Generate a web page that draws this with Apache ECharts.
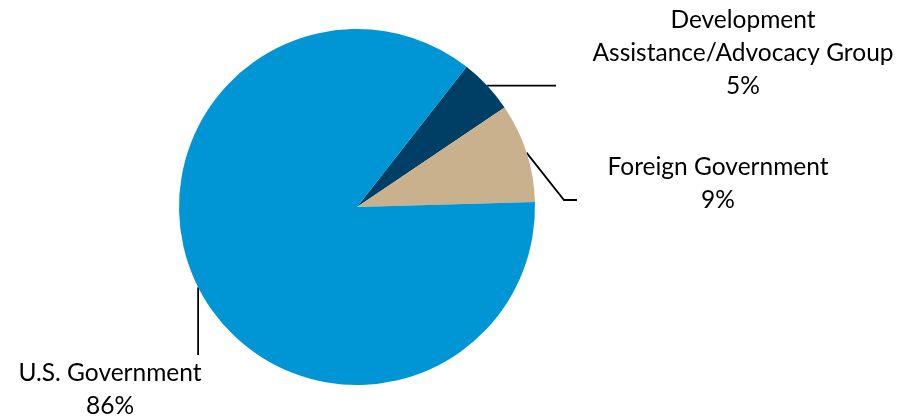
<!DOCTYPE html>
<html><head><meta charset="utf-8">
<script src="https://cdn.jsdelivr.net/npm/echarts@6/dist/echarts.min.js"></script>
<style>html,body{margin:0;padding:0;background:#fff}#c{width:900px;height:419px}</style>
</head><body><div id="c"></div>
<script>
const categories = ['Development\nAssistance/Advocacy Group', 'Foreign Government', 'U.S. Government'];
const values = [5, 9, 86];
const colors = ['#003F65', '#C8B18C', '#0096D6'];

const chart = echarts.init(document.getElementById('c'));
// label text centre & line geometry relative to pie edge start point
const labelPlace = [
  {tx: 743, ty: 20, line: p => [p, [556, p[1]], [556, p[1]]]},
  {tx: 718, ty: 167, line: p => [p, [564, 200], [577, 200]]},
  {tx: 110, ty: 373, line: p => [p, [p[0], 355], [p[0], 355]]}
];
chart.setOption({
  animation: false,
  series: [{
    type: 'pie',
    center: [357, 207],
    radius: 178,
    startAngle: 52,
    clockwise: true,
    data: categories.map((c, i) => ({name: c, value: values[i], itemStyle: {color: colors[i]}})),
    label: {
      show: true,
      formatter: p => p.name + '\n' + p.value + '%',
      fontFamily: 'Lato',
      fontSize: 24.5,
      lineHeight: 33,
      color: '#000',
      align: 'center',
      overflow: 'none',
      alignTo: 'none'
    },
    labelLine: {show: true, length: 0, length2: 10, lineStyle: {color: '#000', width: 1.8}},
    labelLayout: function (params) {
      const L = labelPlace[params.dataIndex];
      const start = params.labelLinePoints[0];
      return {
        x: L.tx, y: L.ty - 16, align: 'center', verticalAlign: 'top', width: 400,
        labelLinePoints: L.line(start)
      };
    }
  }]
});
</script></body></html>
